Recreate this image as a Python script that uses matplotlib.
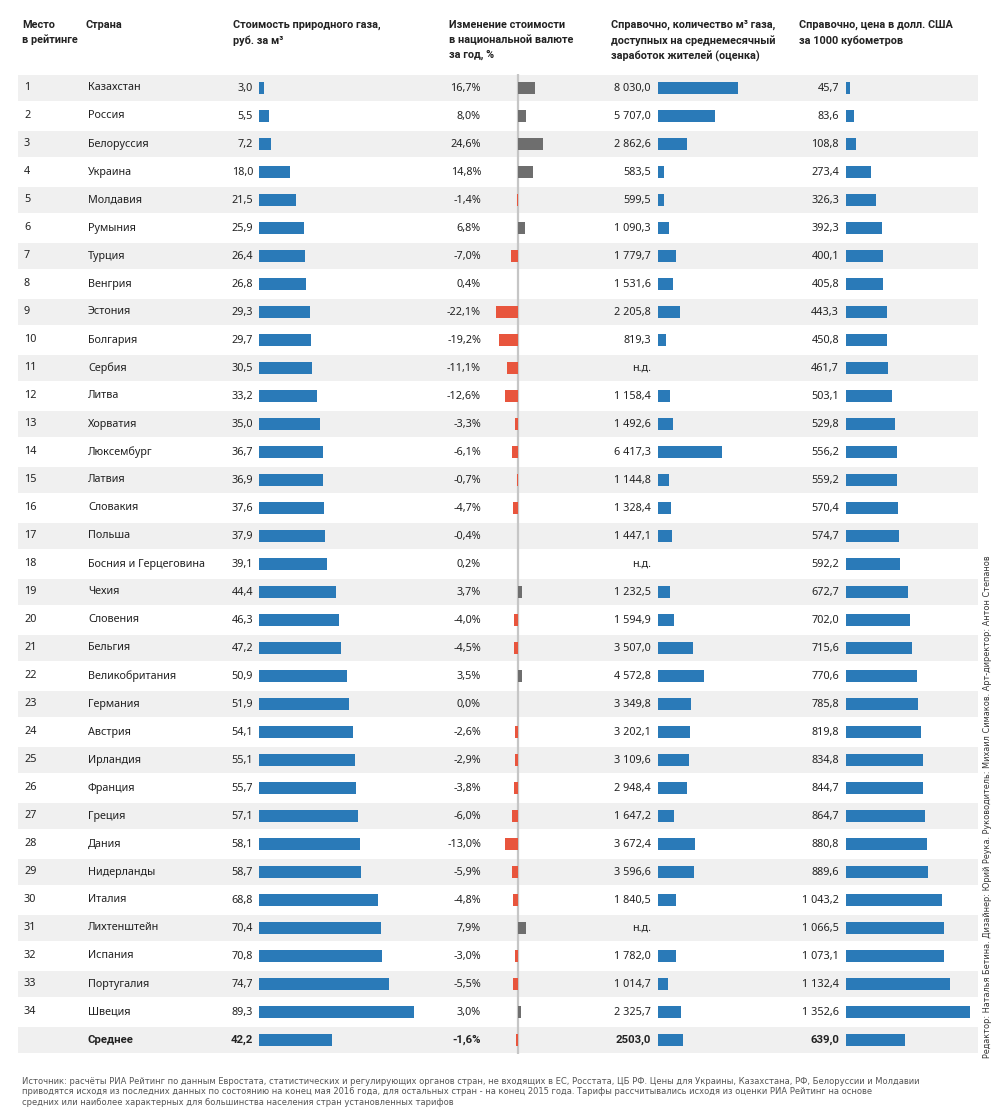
import matplotlib.pyplot as plt

plt.rcParams['font.family'] = ['Noto Sans', 'DejaVu Sans']

countries = ['Казахстан', 'Россия', 'Белоруссия', 'Украина', 'Молдавия', 'Румыния',
             'Турция', 'Венгрия', 'Эстония', 'Болгария', 'Сербия', 'Литва', 'Хорватия',
             'Люксембург', 'Латвия', 'Словакия', 'Польша', 'Босния и Герцеговина',
             'Чехия', 'Словения', 'Бельгия', 'Великобритания', 'Германия', 'Австрия',
             'Ирландия', 'Франция', 'Греция', 'Дания', 'Нидерланды', 'Италия',
             'Лихтенштейн', 'Испания', 'Португалия', 'Швеция']
ranks = list(range(1, len(countries) + 1))
price_rub = [3.0, 5.5, 7.2, 18.0, 21.5, 25.9, 26.4, 26.8, 29.3, 29.7, 30.5, 33.2,
             35.0, 36.7, 36.9, 37.6, 37.9, 39.1, 44.4, 46.3, 47.2, 50.9, 51.9, 54.1,
             55.1, 55.7, 57.1, 58.1, 58.7, 68.8, 70.4, 70.8, 74.7, 89.3]
change_pct = [16.7, 8.0, 24.6, 14.8, -1.4, 6.8, -7.0, 0.4, -22.1, -19.2, -11.1, -12.6,
              -3.3, -6.1, -0.7, -4.7, -0.4, 0.2, 3.7, -4.0, -4.5, 3.5, 0.0, -2.6,
              -2.9, -3.8, -6.0, -13.0, -5.9, -4.8, 7.9, -3.0, -5.5, 3.0]
# None = нет данных
gas_per_salary = [8030.0, 5707.0, 2862.6, 583.5, 599.5, 1090.3, 1779.7, 1531.6, 2205.8,
                  819.3, None, 1158.4, 1492.6, 6417.3, 1144.8, 1328.4, 1447.1, None,
                  1232.5, 1594.9, 3507.0, 4572.8, 3349.8, 3202.1, 3109.6, 2948.4, 1647.2,
                  3672.4, 3596.6, 1840.5, None, 1782.0, 1014.7, 2325.7]
price_usd = [45.7, 83.6, 108.8, 273.4, 326.3, 392.3, 400.1, 405.8, 443.3, 450.8, 461.7,
             503.1, 529.8, 556.2, 559.2, 570.4, 574.7, 592.2, 672.7, 702.0, 715.6, 770.6,
             785.8, 819.8, 834.8, 844.7, 864.7, 880.8, 889.6, 1043.2, 1066.5, 1073.1,
             1132.4, 1352.6]
avg_label = 'Среднее'
avg_price_rub = 42.2
avg_change_pct = -1.6
avg_gas_per_salary = 2503.0
avg_price_usd = 639.0

headers = [(22, 'Место\nв рейтинге'),
           (86, 'Страна'),
           (233, 'Стоимость природного газа,\nруб. за м³'),
           (449, 'Изменение стоимости\nв национальной валюте\nза год, %'),
           (611, 'Справочно, количество м³ газа,\nдоступных на среднемесячный\nзаработок жителей (оценка)'),
           (799, 'Справочно, цена в долл. США\nза 1000 кубометров')]
source_lines = [
    'Источник: расчёты РИА Рейтинг по данным Евростата, статистических и регулирующих органов стран, '
    'не входящих в ЕС, Росстата, ЦБ РФ. Цены для Украины, Казахстана, РФ, Белоруссии и Молдавии',
    'приводятся исходя из последних данных по состоянию на конец мая 2016 года, для остальных стран - '
    'на конец 2015 года. Тарифы рассчитывались исходя из оценки РИА Рейтинг на основе',
    'средних или наиболее характерных для большинства населения стран установленных тарифов']
credits = ('Редактор: Наталья Бетина. Дизайнер: Юрий Реука. Руководитель: Михаил Симаков. '
           'Арт-директор: Антон Степанов')

BLUE = '#2a7ab8'
RED = '#e8553d'
GREY = '#6e6e6e'
BAND = '#f0f0f0'
TEXT = '#222222'


def fmt(v, sep=' '):
    if v is None:
        return 'н.д.'
    return f'{v:,.1f}'.replace(',', sep).replace('.', ',')


W, H = 998, 1116
ROW = 28
TOP = 74
n_rows = len(countries) + 1
BOTTOM = TOP + ROW * n_rows

fig = plt.figure(figsize=(W / 100, H / 100), dpi=100)

page = fig.add_axes([0, 0, 1, 1])
page.set_xlim(0, W)
page.set_ylim(H, 0)
page.axis('off')


def row_axes(x0, x1):
    ax = fig.add_axes([x0 / W, 1 - BOTTOM / H, (x1 - x0) / W, (BOTTOM - TOP) / H])
    ax.set_ylim(n_rows - 0.5, -0.5)
    ax.axis('off')
    return ax


table = row_axes(0, W)
table.set_xlim(0, W)
for i in range(0, n_rows, 2):
    table.axhspan(i - 0.47, i + 0.47, xmin=18 / W, xmax=978 / W, color=BAND, lw=0)

fs = 7.8
for i, name in enumerate(countries):
    table.text(24, i, str(ranks[i]), va='center', fontsize=fs, color=TEXT)
    table.text(88, i, name, va='center', fontsize=fs, color=TEXT)
    table.text(253, i, fmt(price_rub[i]), va='center', ha='right', fontsize=fs, color=TEXT)
    table.text(481, i, fmt(change_pct[i]) + '%', va='center', ha='right', fontsize=fs, color=TEXT)
    table.text(651, i, fmt(gas_per_salary[i]), va='center', ha='right', fontsize=fs, color=TEXT)
    table.text(839, i, fmt(price_usd[i]), va='center', ha='right', fontsize=fs, color=TEXT)

ia = n_rows - 1
bold = dict(va='center', fontsize=8.2, color=TEXT, fontweight='bold',
            family=['Roboto', 'DejaVu Sans'])
table.text(88, ia, avg_label, **bold)
table.text(253, ia, fmt(avg_price_rub), ha='right', **bold)
table.text(481, ia, fmt(avg_change_pct) + '%', ha='right', **bold)
table.text(651, ia, fmt(avg_gas_per_salary, sep=''), ha='right', **bold)
table.text(839, ia, fmt(avg_price_usd, sep=''), ha='right', **bold)

bar_h = 0.4
ys = list(range(n_rows))

ax_rub = row_axes(259, 429)
ax_rub.set_xlim(0, 170 / 1.736)
ax_rub.barh(ys, price_rub + [avg_price_rub], height=bar_h, color=BLUE)

ax_chg = row_axes(488, 548)
ax_chg.set_xlim(-30, 30)
ax_chg.axvline(0, color='#c6c6c6', lw=1.6, zorder=1)
chg = change_pct + [avg_change_pct]
ax_chg.barh(ys, chg, height=bar_h, color=[GREY if v > 0 else RED for v in chg], zorder=2)

ax_gas = row_axes(658, 758)
ax_gas.set_xlim(0, 100 / 0.01)
gas = [0 if v is None else v for v in gas_per_salary] + [avg_gas_per_salary]
ax_gas.barh(ys, gas, height=bar_h, color=BLUE)

ax_usd = row_axes(846, 976)
ax_usd.set_xlim(0, 130 / 0.0917)
ax_usd.barh(ys, price_usd + [avg_price_usd], height=bar_h, color=BLUE)

for x, h in headers:
    page.text(x, 20, h, va='top', ha='left', fontsize=7.8, fontweight='bold',
              color=TEXT, linespacing=1.55, family=['Roboto', 'DejaVu Sans'])

for k, line in enumerate(source_lines):
    page.text(22, 1081.5 + 10.3 * k, line, va='center', ha='left', fontsize=6.0,
              color='#555555', family=['DejaVu Sans'])
page.text(988, 1058, credits, rotation=90, va='bottom', ha='center', fontsize=5.85,
          color='#333333', family=['DejaVu Sans'])

fig.savefig('out.png', dpi=100)
